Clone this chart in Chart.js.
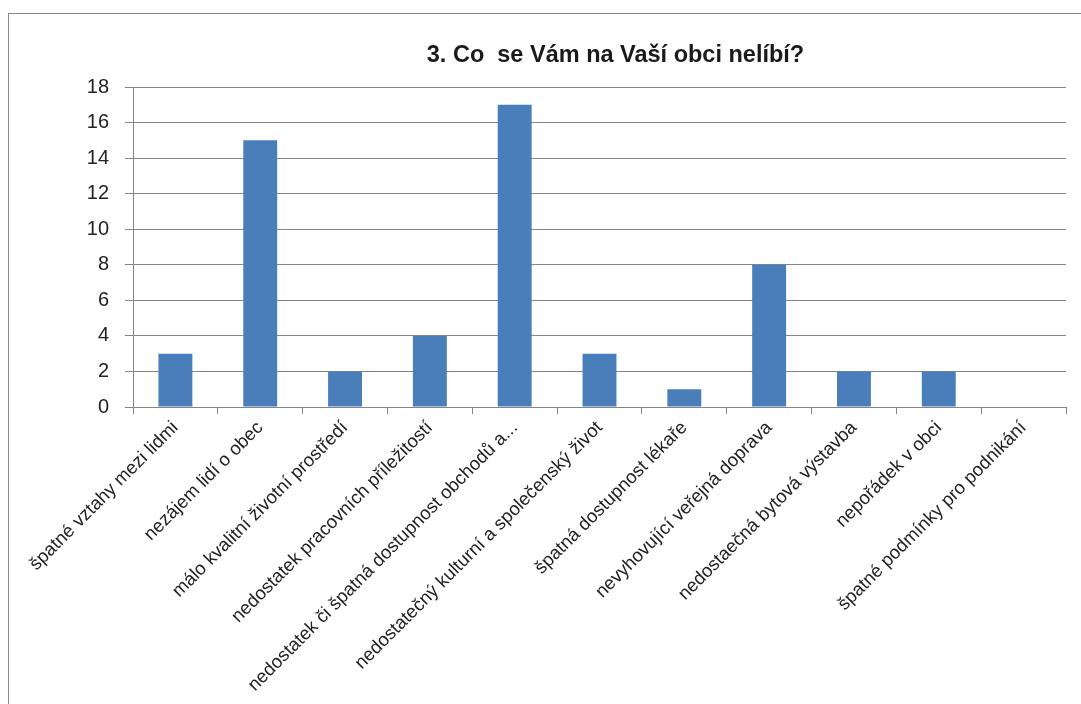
<!DOCTYPE html>
<html>
<head>
<meta charset="utf-8">
<script src="https://cdn.jsdelivr.net/npm/chart.js@4/dist/chart.umd.min.js"></script>
<style>
  html, body { margin: 0; padding: 0; background: #fff; overflow: hidden; }
  #frame { position: absolute; left: 8px; top: 13px; width: 1090px; height: 700px; border: 1px solid #8a8a8a; box-sizing: border-box; }
  #wrap { position: absolute; left: 9px; top: 14px; width: 1072px; height: 690px; }
</style>
</head>
<body>
<div id="frame"></div>
<div id="wrap"><canvas id="c"></canvas></div>
<script>
const chartTitle = "3. Co  se Vám na Vaší obci nelíbí?";
const categories = [
  "špatné vztahy mezi lidmi",
  "nezájem lidí o obec",
  "málo kvalitní životní prostředí",
  "nedostatek pracovních příležitostí",
  "nedostatek či špatná dostupnost obchodů a...",
  "nedostatečný kulturní a společenský život",
  "špatná dostupnost lékaře",
  "nevyhovující veřejná doprava",
  "nedostaečná bytová výstavba",
  "nepořádek v obci",
  "špatné podmínky pro podnikání"
];
const values = [3, 15, 2, 4, 17, 3, 1, 8, 2, 2, 0];
const yTicks = [0, 2, 4, 6, 8, 10, 12, 14, 16, 18];

const titlePlugin = {
  id: 'customTitle',
  afterDraw(chart) {
    const ctx = chart.ctx;
    ctx.save();
    ctx.font = 'bold 23.5px "Liberation Sans", Arial, sans-serif';
    ctx.fillStyle = '#1a1a1a';
    ctx.textAlign = 'center';
    ctx.textBaseline = 'alphabetic';
    ctx.fillText(chartTitle, 606.5, 48);
    ctx.restore();
  }
};

new Chart(document.getElementById('c'), {
  type: 'bar',
  data: {
    labels: categories,
    datasets: [{
      data: values,
      backgroundColor: '#4a7ebb',
      borderWidth: 0,
      barPercentage: 0.4,
      categoryPercentage: 1.0
    }]
  },
  options: {
    responsive: true,
    maintainAspectRatio: false,
    animation: false,
    layout: { padding: { top: 73, right: 15, left: 0, bottom: 0 } },
    plugins: { legend: { display: false }, tooltip: { enabled: false }, title: { display: false } },
    scales: {
      x: {
        afterFit(axis) { axis.height = 297; },
        grid: { display: true, drawOnChartArea: false, drawTicks: true, tickLength: 7, color: '#868686', offset: true },
        border: { display: true, color: '#868686', width: 1 },
        ticks: {
          autoSkip: false, maxRotation: 45, minRotation: 45, color: '#222', padding: 3,
          font: { family: '"Liberation Sans", Arial, sans-serif', size: 18.5 }
        }
      },
      y: {
        min: 0, max: 18,
        afterFit(axis) { axis.width = 124; },
        afterBuildTicks(axis) { axis.ticks = yTicks.map(v => ({ value: v })); },
        grid: { color: '#868686', drawTicks: true, tickLength: 8 },
        border: { display: true, color: '#868686', width: 1 },
        ticks: {
          color: '#222', padding: 16,
          font: { family: '"Liberation Sans", Arial, sans-serif', size: 20 }
        }
      }
    }
  },
  plugins: [titlePlugin]
});
</script>
</body>
</html>
